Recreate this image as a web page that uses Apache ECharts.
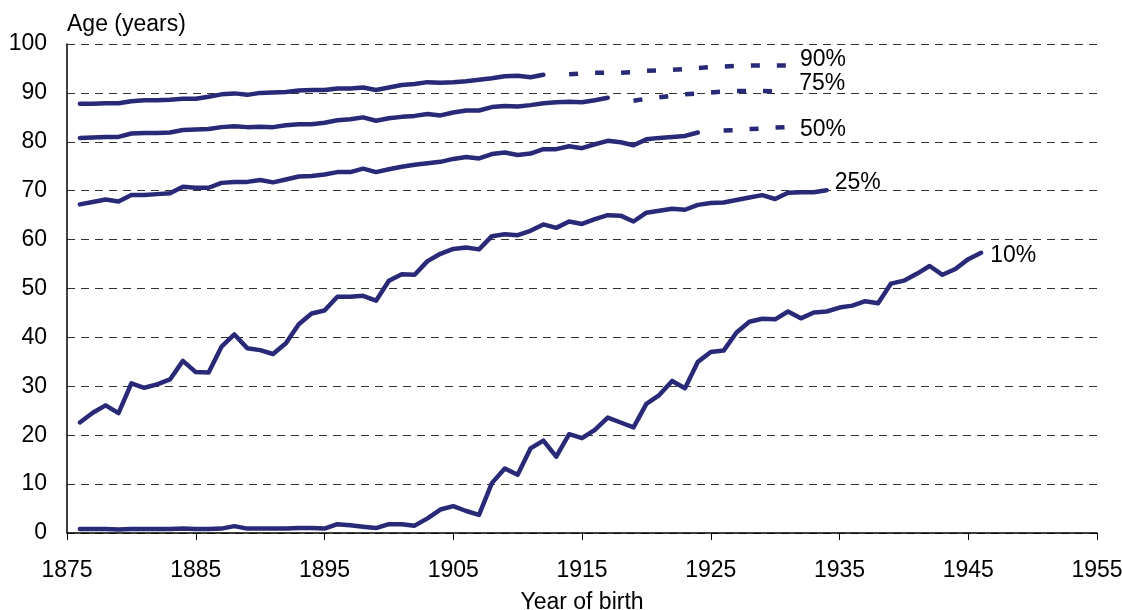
<!DOCTYPE html>
<html>
<head>
<meta charset="utf-8">
<script src="https://cdn.jsdelivr.net/npm/echarts@6/dist/echarts.min.js"></script>
<style>
  html, body { margin: 0; padding: 0; background: #fff; }
  #chart { width: 1122px; height: 610px; }
</style>
</head>
<body>
<div id="chart"></div>
<script>
// observed percentiles, one value per birth year
var p10Start = 1876;
var p10 = [0.8, 0.8, 0.8, 0.7, 0.8, 0.8, 0.8, 0.8, 0.9, 0.8,
    0.8, 0.9, 1.4, 0.9, 0.9, 0.9, 0.9, 1.0, 1.0, 0.9,
    1.8, 1.6, 1.3, 1.0, 1.8, 1.8, 1.5, 3.0, 4.8, 5.5,
    4.5, 3.7, 10.2, 13.2, 11.9, 17.3, 18.9, 15.6, 20.2, 19.4,
    21.1, 23.6, 22.6, 21.6, 26.4, 28.2, 31.1, 29.6, 35.0, 37.0,
    37.3, 41.0, 43.2, 43.8, 43.7, 45.3, 43.9, 45.1, 45.3, 46.1,
    46.5, 47.4, 47.0, 51.0, 51.6, 53.0, 54.6, 52.8, 54.0, 56.0,
    57.3];

var p25Start = 1876;
var p25 = [22.6, 24.6, 26.1, 24.5, 30.6, 29.7, 30.4, 31.4, 35.2, 32.9,
    32.8, 38.1, 40.6, 37.8, 37.4, 36.6, 38.8, 42.7, 44.9, 45.5,
    48.3, 48.3, 48.5, 47.5, 51.6, 52.9, 52.8, 55.6, 57.1, 58.1,
    58.4, 58.0, 60.7, 61.1, 60.9, 61.8, 63.1, 62.4, 63.7, 63.2,
    64.2, 65.0, 64.9, 63.7, 65.5, 65.9, 66.3, 66.1, 67.1, 67.5,
    67.6, 68.1, 68.6, 69.1, 68.3, 69.6, 69.7, 69.7, 70.1];

var p50Start = 1876;
var p50 = [67.2, 67.7, 68.2, 67.8, 69.1, 69.1, 69.3, 69.5, 70.8, 70.6,
    70.6, 71.6, 71.8, 71.8, 72.2, 71.7, 72.3, 72.9, 73.0, 73.3,
    73.8, 73.8, 74.5, 73.8, 74.4, 74.9, 75.3, 75.6, 75.9, 76.5,
    76.9, 76.6, 77.5, 77.8, 77.3, 77.6, 78.5, 78.5, 79.1, 78.7,
    79.5, 80.2, 79.9, 79.3, 80.5, 80.8, 81.0, 81.2, 81.9];

var p75Start = 1876;
var p75 = [80.8, 80.9, 81.0, 81.0, 81.7, 81.8, 81.8, 81.9, 82.4, 82.5,
    82.6, 83.0, 83.2, 83.0, 83.1, 83.0, 83.4, 83.6, 83.6, 83.9,
    84.4, 84.6, 85.0, 84.3, 84.8, 85.1, 85.3, 85.7, 85.4, 86.0,
    86.4, 86.4, 87.1, 87.3, 87.2, 87.5, 87.9, 88.1, 88.2, 88.1,
    88.5, 89.0];

var p90Start = 1876;
var p90 = [87.8, 87.8, 87.9, 87.9, 88.3, 88.5, 88.5, 88.6, 88.8, 88.8,
    89.2, 89.7, 89.9, 89.6, 90.0, 90.1, 90.2, 90.5, 90.6, 90.6,
    90.9, 90.9, 91.1, 90.6, 91.1, 91.6, 91.8, 92.2, 92.1, 92.2,
    92.4, 92.7, 93.0, 93.4, 93.5, 93.2, 93.7];

// projected (dashed) parts
var p50ProjStart = 1926;
var p50Proj = [82.3, 82.4, 82.6, 82.7, 82.9, 83.0];
var p75ProjStart = 1919;
var p75Proj = [88.4, 88.8, 89.1, 89.4, 89.7, 89.9, 90.1, 90.3, 90.4, 90.4, 90.4, 90.3];
var p90ProjStart = 1914;
var p90Proj = [93.8, 94.0, 94.1, 94.1, 94.1, 94.3, 94.5, 94.6, 94.7, 94.9,
    95.1, 95.3, 95.4, 95.5, 95.6, 95.6, 95.6, 95.6];

var xMin = 1875, xMax = 1955, xStep = 10;
var yMin = 0, yMax = 100, yStep = 10;

var navy = '#282a78';
var font = 'Liberation Sans, Arial, sans-serif';
var fsize = 23;

function pairs(start, values) {
    return values.map(function (v, i) { return [start + i, v]; });
}

function line(name, start, values, dashed, label, offset) {
    var s = {
        name: name,
        type: 'line',
        data: pairs(start, values),
        symbol: 'none',
        silent: true,
        lineStyle: {
            color: navy,
            width: 4.5,
            type: dashed ? [9, 17] : 'solid',
            cap: dashed ? 'butt' : 'round',
            join: 'round'
        },
        z: 3
    };
    if (label) {
        s.endLabel = {
            show: true,
            formatter: label,
            color: '#000',
            fontFamily: font,
            fontSize: fsize,
            offset: offset
        };
    }
    return s;
}

var chart = echarts.init(document.getElementById('chart'));
chart.setOption({
    animation: false,
    backgroundColor: '#fff',
    grid: { left: 67, right: 25, top: 44, bottom: 77, containLabel: false, outerBoundsMode: 'none' },
    xAxis: {
        type: 'value',
        min: xMin,
        max: xMax,
        interval: xStep,
        name: 'Year of birth',
        nameLocation: 'middle',
        nameGap: 58,
        nameTextStyle: { color: '#000', fontFamily: font, fontSize: fsize },
        axisLine: { lineStyle: { color: '#000', width: 1.5 } },
        axisTick: { show: true, length: 7, lineStyle: { color: '#000' } },
        axisLabel: {
            color: '#000', fontFamily: font, fontSize: fsize, margin: 26,
            formatter: function (v) { return String(v); }
        },
        splitLine: { show: false }
    },
    yAxis: {
        type: 'value',
        min: yMin,
        max: yMax,
        interval: yStep,
        name: 'Age (years)',
        nameLocation: 'end',
        nameGap: 8,
        nameTextStyle: { color: '#000', fontFamily: font, fontSize: fsize, align: 'left', verticalAlign: 'bottom' },
        axisLine: { show: true, lineStyle: { color: '#000', width: 1.5 } },
        axisTick: { show: false },
        axisLabel: { color: '#000', fontFamily: font, fontSize: fsize, margin: 20 },
        splitLine: { show: true, lineStyle: { color: '#333', width: 1, type: [8, 6] } }
    },
    series: [
        line('10%', p10Start, p10, false, '10%', [1, 3]),
        line('25%', p25Start, p25, false, '25%', [0, -8]),
        line('50%', p50Start, p50, false),
        line('50% proj', p50ProjStart, p50Proj, true, '50%', [4, 3]),
        line('75%', p75Start, p75, false),
        line('75% proj', p75ProjStart, p75Proj, true, '75%', [16, -8]),
        line('90%', p90Start, p90, false),
        line('90% proj', p90ProjStart, p90Proj, true, '90%', [4, -6])
    ]
});
</script>
</body>
</html>
